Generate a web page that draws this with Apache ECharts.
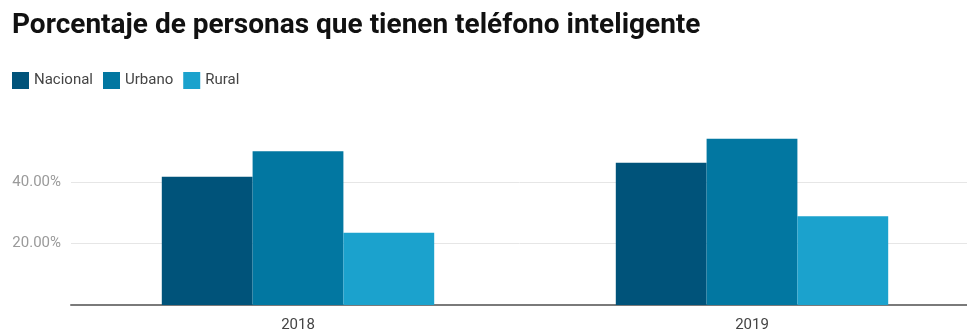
<!DOCTYPE html>
<html>
<head>
<meta charset="utf-8">
<script src="https://cdn.jsdelivr.net/npm/echarts@6/dist/echarts.min.js"></script>
<style>
  html, body { margin: 0; padding: 0; background: #fff; }
  #chart { width: 967px; height: 334px; }
</style>
</head>
<body>
<div id="chart"></div>
<script>
// Porcentaje de personas con teléfono inteligente, por ámbito
const years = ['2018', '2019'];
const nacional = [41.8, 46.4];
const urbano = [50.1, 54.2];
const rural = [23.6, 28.9];
const seriesNames = ['Nacional', 'Urbano', 'Rural'];
const yTicks = [0, 20, 40, 60];

const colors = ['#00537a', '#0277a1', '#1ba2cd'];

const chart = echarts.init(document.getElementById('chart'), null, { renderer: 'canvas' });

function barSeries(name, data, i) {
  return {
    name: name,
    type: 'bar',
    data: data,
    barGap: '0%',
    barCategoryGap: '40%',
    itemStyle: { color: colors[i] },
    emphasis: { disabled: true }
  };
}

chart.setOption({
  animation: false,
  textStyle: { fontFamily: 'Roboto' },
  title: {
    text: 'Porcentaje de personas que tienen teléfono inteligente',
    left: 7,
    top: 7,
    padding: 5,
    textStyle: { fontFamily: 'Roboto', fontSize: 28, fontWeight: 'bold', color: '#111' }
  },
  legend: {
    data: seriesNames,
    left: 12,
    top: 72,
    padding: 0,
    itemWidth: 17,
    itemHeight: 17,
    itemGap: 10,
    icon: 'rect',
    textStyle: { fontFamily: 'Roboto', fontSize: 15, color: '#444' }
  },
  // the plot runs a little past the right edge of the canvas
  grid: { left: 71, right: -12, top: 121, bottom: 29, containLabel: false, outerBoundsMode: 'none' },
  xAxis: {
    type: 'category',
    data: years,
    axisTick: { show: false },
    axisLine: { lineStyle: { color: '#7a7a7a', width: 2 } },
    axisLabel: { color: '#444', fontSize: 15, margin: 13, fontFamily: 'Roboto' }
  },
  yAxis: {
    type: 'value',
    min: yTicks[0],
    max: yTicks[yTicks.length - 1],
    interval: 20,
    axisLine: { show: false },
    axisTick: { show: false },
    axisLabel: {
      color: '#9a9a9a',
      fontSize: 15,
      margin: 10,
      fontFamily: 'Roboto',
      formatter: function (v) {
        return (v === 0 || v === 60) ? '' : v.toFixed(2) + '%';
      }
    },
    splitLine: {
      lineStyle: { color: ['#e6e6e6', '#e6e6e6', '#e6e6e6', 'rgba(0,0,0,0)'], width: 1 }
    }
  },
  series: [
    barSeries(seriesNames[0], nacional, 0),
    barSeries(seriesNames[1], urbano, 1),
    barSeries(seriesNames[2], rural, 2)
  ]
});
</script>
</body>
</html>
